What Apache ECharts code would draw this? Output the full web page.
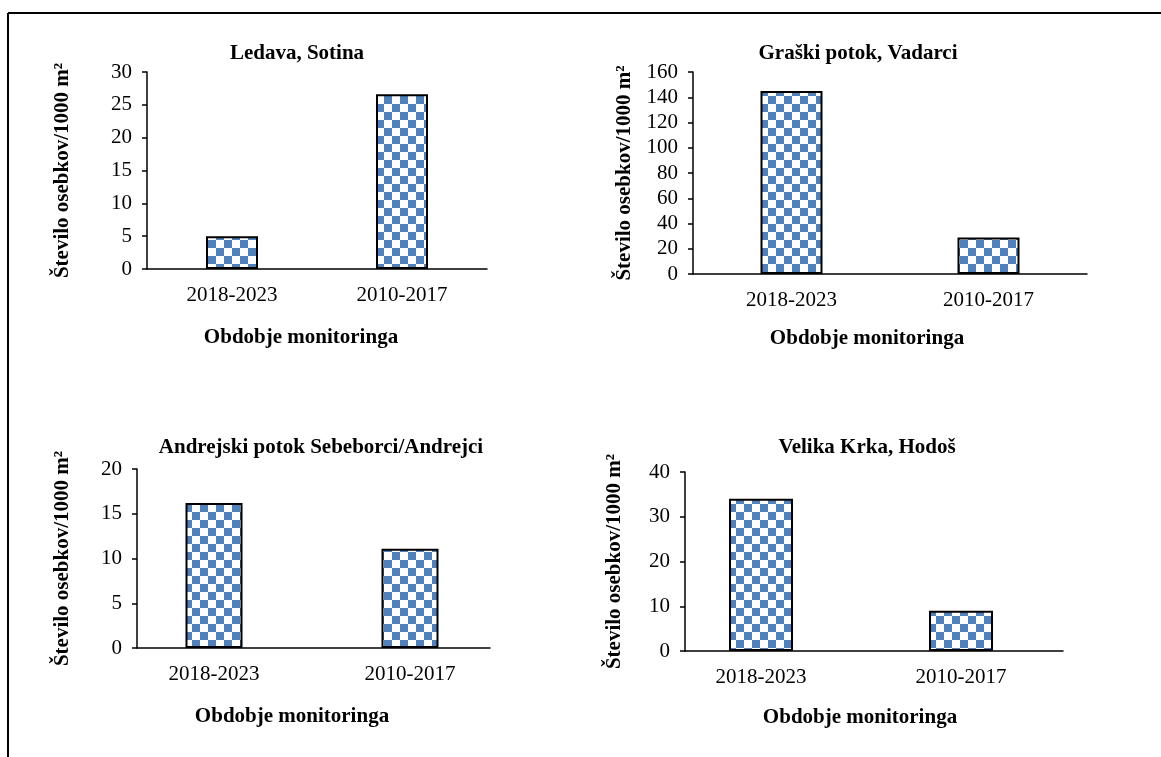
<!DOCTYPE html>
<html>
<head>
<meta charset="utf-8">
<script src="https://cdn.jsdelivr.net/npm/echarts@6/dist/echarts.min.js"></script>
<style>html,body{margin:0;padding:0;background:#fff;}#c{width:1161px;height:757px;}</style>
</head>
<body>
<div id="c"></div>
<script>
const categories = ['2018-2023', '2010-2017'];
const titles = ['Ledava, Sotina', 'Graški potok, Vadarci', 'Andrejski potok Sebeborci/Andrejci', 'Velika Krka, Hodoš'];
const ledava = [5, 26.6];
const graski = [145, 29];
const andrejski = [16.2, 11.1];
const velikaKrka = [34, 9];
const yMax = [30, 160, 20, 40];
const yInterval = [5, 20, 5, 10];
const yName = 'Število osebkov/1000 m²';
const xName = 'Obdobje monitoringa';

const seriesData = [ledava, graski, andrejski, velikaKrka];

// checkerboard pattern
const pc = document.createElement('canvas');
pc.width = 16; pc.height = 16;
const g = pc.getContext('2d');
g.fillStyle = '#ffffff'; g.fillRect(0, 0, 16, 16);
g.fillStyle = '#4f81bd';
g.fillRect(0, 0, 8, 8);
g.fillRect(8, 8, 8, 8);

const FONT = '"Liberation Serif", "Times New Roman", serif';

// grids 0-3: plot areas holding the bars; grids 4-5: visible axis frames of the lower two charts
const grids = [
  {left: 147, top: 72, width: 340, height: 197},
  {left: 693, top: 72, width: 394, height: 202},
  {left: 116, top: 469, width: 392, height: 179},
  {left: 661, top: 472, width: 400, height: 179},
  {left: 137, top: 469, width: 353, height: 179},
  {left: 685, top: 472, width: 378, height: 179}
];
const barWidths = [52, 62, 57, 64];
const titlePos = [[292, 38], [853, 38], [316, 432], [862, 432]];
const yNameGap = [74, 58, 64, 60];
const xNameGap = [58, 54, 58, 56];
const xNamePad = [[0, 32, 0, 0], [0, 46, 0, 0], [0, 40, 0, 0], [0, 2, 0, 0]];

const textBase = {fontFamily: FONT, fontSize: 21, color: '#000'};
const boldText = Object.assign({}, textBase, {fontWeight: 'bold'});

function visibleY(i, gridIndex) {
  return {
    type: 'value', gridIndex: gridIndex, min: 0, max: yMax[i], interval: yInterval[i],
    name: yName, nameLocation: 'middle', nameGap: yNameGap[i], nameRotate: 90,
    nameTextStyle: boldText,
    axisLine: {show: true, lineStyle: {color: '#000', width: 1.5}},
    axisTick: {show: true, length: 5, lineStyle: {color: '#000', width: 1.5}},
    splitLine: {show: false},
    axisLabel: Object.assign({}, textBase, {margin: 15})
  };
}

const xAxes = [0, 1, 2, 3].map(i => ({
  type: 'category', gridIndex: i, data: categories,
  name: xName, nameLocation: 'middle', nameGap: xNameGap[i],
  nameTextStyle: Object.assign({}, boldText, {padding: xNamePad[i]}),
  axisLine: {show: i < 2, lineStyle: {color: '#000', width: 1.5}},
  axisTick: {show: false},
  axisLabel: Object.assign({}, textBase, {margin: 16})
}));
[4, 5].forEach(gi => xAxes.push({
  type: 'category', gridIndex: gi, data: categories,
  axisLine: {show: true, lineStyle: {color: '#000', width: 1.5}},
  axisTick: {show: false}, axisLabel: {show: false}
}));

const yAxes = [
  visibleY(0, 0),
  visibleY(1, 1),
  {type: 'value', gridIndex: 2, min: 0, max: yMax[2], interval: yInterval[2], show: false},
  {type: 'value', gridIndex: 3, min: 0, max: yMax[3], interval: yInterval[3], show: false},
  visibleY(2, 4),
  visibleY(3, 5)
];

const chart = echarts.init(document.getElementById('c'), null, {renderer: 'canvas'});

const option = {
  backgroundColor: '#ffffff',
  animation: false,
  title: titles.map((t, i) => ({
    text: t, left: titlePos[i][0], top: titlePos[i][1], textAlign: 'center',
    textStyle: boldText
  })),
  grid: grids,
  xAxis: xAxes,
  yAxis: yAxes,
  series: seriesData.map((d, i) => ({
    type: 'bar', xAxisIndex: i, yAxisIndex: i, data: d, barWidth: barWidths[i],
    z: 3,
    itemStyle: {color: {image: pc, repeat: 'repeat'}, borderColor: '#000', borderWidth: 2}
  })),
  graphic: [
    {type: 'line', shape: {x1: 8, y1: 13, x2: 1161, y2: 13}, style: {stroke: '#000', lineWidth: 2}},
    {type: 'line', shape: {x1: 8, y1: 13, x2: 8, y2: 757}, style: {stroke: '#000', lineWidth: 2}}
  ]
};
chart.setOption(option);
</script>
</body>
</html>
